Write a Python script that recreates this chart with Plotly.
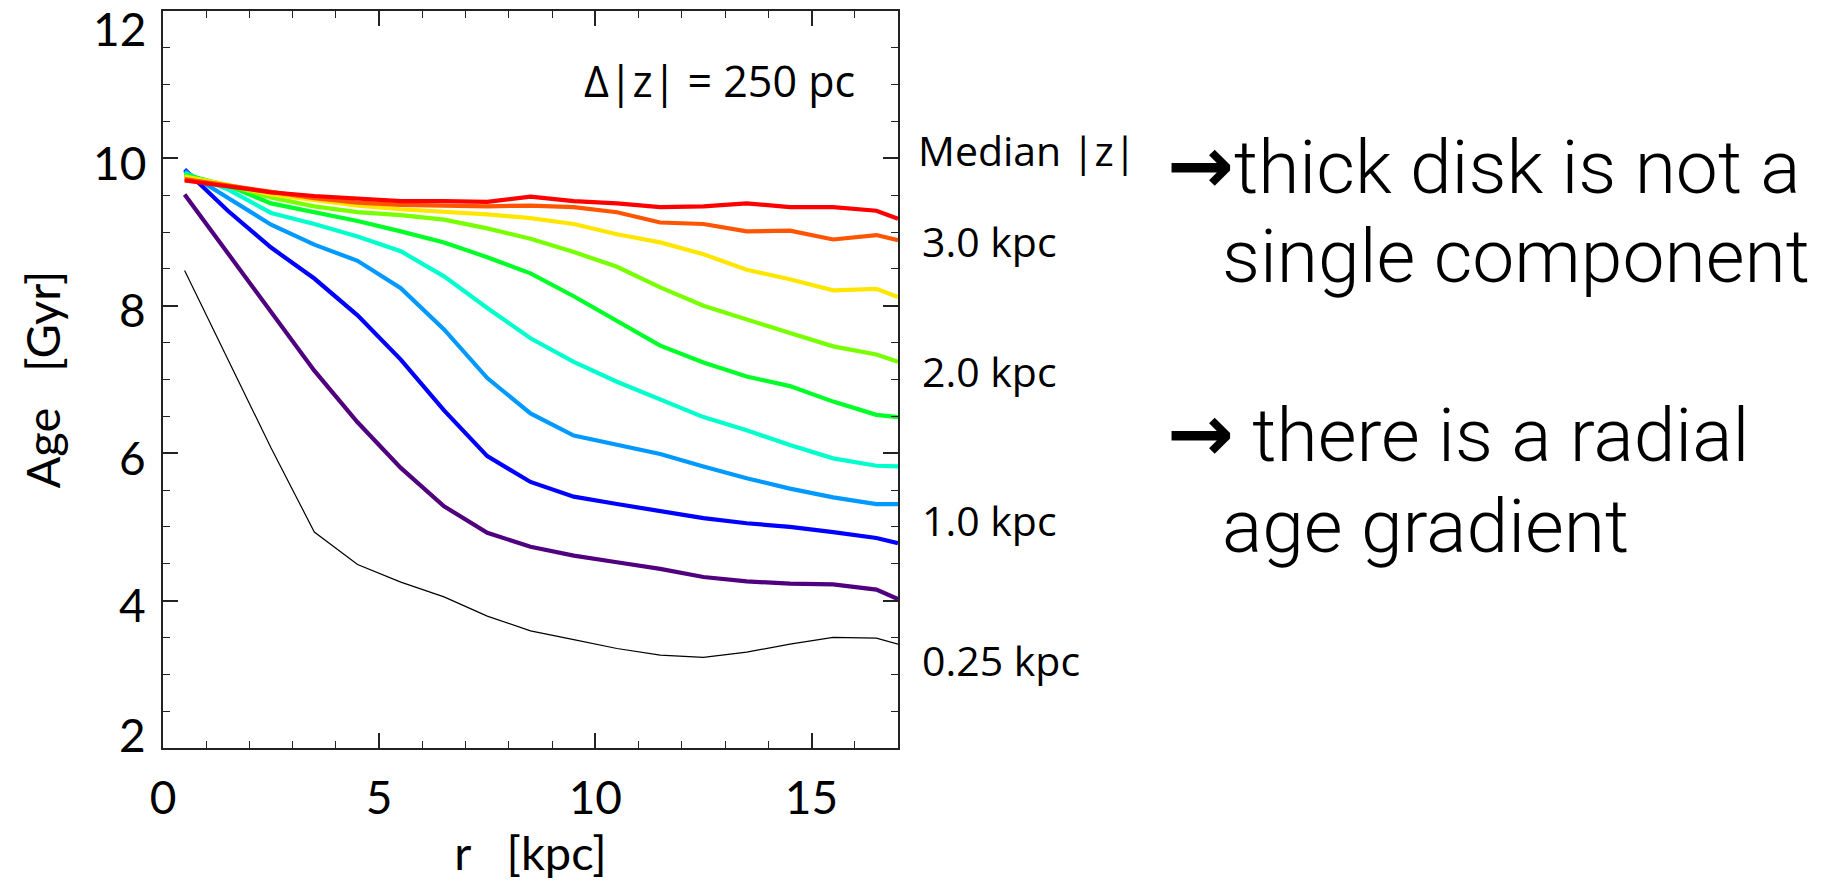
import plotly.graph_objects as go

# ---------------- data ----------------
r_kpc = [0.5, 1.5, 2.5, 3.5, 4.5, 5.5, 6.5, 7.5, 8.5, 9.5,
         10.5, 11.5, 12.5, 13.5, 14.5, 15.5, 16.5, 17.0]

age_black = [8.48, 7.28, 6.07, 4.93, 4.49, 4.25, 4.05, 3.79, 3.59, 3.47,
             3.35, 3.26, 3.23, 3.30, 3.41, 3.50, 3.49, 3.41]
age_purple = [9.51, 8.71, 7.91, 7.12, 6.42, 5.80, 5.28, 4.92, 4.73, 4.61,
              4.52, 4.43, 4.32, 4.26, 4.23, 4.22, 4.15, 4.02]
age_blue = [9.85, 9.29, 8.79, 8.37, 7.87, 7.27, 6.58, 5.96, 5.61, 5.41,
            5.31, 5.22, 5.12, 5.05, 5.00, 4.93, 4.85, 4.78]
age_lightblue = [9.83, 9.47, 9.10, 8.83, 8.61, 8.24, 7.68, 7.02, 6.54, 6.24,
                 6.11, 5.99, 5.82, 5.66, 5.52, 5.40, 5.31, 5.31]
age_cyan = [9.80, 9.58, 9.26, 9.11, 8.94, 8.74, 8.40, 7.97, 7.56, 7.24,
            6.97, 6.73, 6.49, 6.31, 6.11, 5.93, 5.83, 5.82]
age_green = [9.78, 9.63, 9.39, 9.27, 9.15, 9.01, 8.86, 8.66, 8.44, 8.13,
             7.79, 7.46, 7.23, 7.04, 6.91, 6.70, 6.52, 6.49]
age_yellowgreen = [9.76, 9.64, 9.47, 9.35, 9.27, 9.23, 9.17, 9.05, 8.91, 8.73,
                   8.53, 8.25, 8.00, 7.81, 7.63, 7.45, 7.34, 7.24]
age_yellow = [9.75, 9.64, 9.51, 9.44, 9.36, 9.31, 9.28, 9.24, 9.19, 9.11,
              8.97, 8.86, 8.70, 8.49, 8.36, 8.21, 8.23, 8.12]
age_orange = [9.72, 9.63, 9.54, 9.46, 9.40, 9.37, 9.36, 9.35, 9.36, 9.34,
              9.27, 9.13, 9.11, 9.01, 9.02, 8.90, 8.96, 8.89]
age_red = [9.70, 9.62, 9.54, 9.49, 9.45, 9.42, 9.42, 9.41, 9.48, 9.42,
           9.39, 9.34, 9.35, 9.39, 9.34, 9.34, 9.29, 9.18]

x_tick_vals = [0, 5, 10, 15]
y_tick_vals = [2, 4, 6, 8, 10, 12]
y_tick_text = ["2", "4", "6", "8", "10", "12"]

median_z_labels = ["3.0 kpc", "2.0 kpc", "1.0 kpc", "0.25 kpc"]
bullet_lines = ["thick disk is not a", "single component",
                " there is a radial", "age gradient"]
bullet_arrow = [True, False, True, False]

# ---------------- styles ----------------
series = [
    (age_black, "#000000", 1.2),
    (age_purple, "#50007F", 4.2),
    (age_blue, "#0000FF", 4.2),
    (age_lightblue, "#0099FF", 4.2),
    (age_cyan, "#00FFCC", 4.2),
    (age_green, "#00FF28", 4.2),
    (age_yellowgreen, "#78FF00", 4.2),
    (age_yellow, "#FFE600", 4.2),
    (age_orange, "#FF5500", 4.2),
    (age_red, "#FF0000", 4.2),
]

W, H = 1833, 882
L, R, T, B = 163, 898, 11, 748  # plot area in pixels
PW, PH = R - L, B - T


def px(x):
    return (x - L) / PW


def py(y):
    return (B - y) / PH


fig = go.Figure()
for ys, col, w in series:
    fig.add_trace(go.Scatter(x=r_kpc, y=ys, mode="lines",
                             line=dict(color=col, width=w),
                             showlegend=False, hoverinfo="skip"))

axis_col = "#222222"
tick_font = dict(family="Lato, sans-serif", size=46, color="black")
title_font = dict(family="Lato, sans-serif", size=47, color="black")

fig.update_layout(
    width=W, height=H,
    margin=dict(l=L, r=W - R, t=T, b=H - B, autoexpand=False),
    paper_bgcolor="white", plot_bgcolor="white",
    showlegend=False,
)

fig.update_xaxes(
    range=[0, 17], tickmode="array", tickvals=x_tick_vals,
    ticks="inside", ticklen=15, tickwidth=1.5, tickcolor=axis_col,
    minor=dict(dtick=1, ticks="inside", ticklen=7.5, tickwidth=1.2, tickcolor=axis_col),
    showline=True, linecolor=axis_col, linewidth=1.5, mirror="allticks",
    showgrid=False, zeroline=False, tickfont=tick_font, ticklabelstandoff=9,
    title=dict(text="r\u00a0\u00a0\u00a0[kpc]", font=title_font, standoff=10),
    automargin=False,
)
fig.update_yaxes(
    range=[2, 12], tickmode="array", tickvals=y_tick_vals,
    ticks="inside", ticklen=15, tickwidth=1.5, tickcolor=axis_col,
    minor=dict(dtick=0.5, ticks="inside", ticklen=7.5, tickwidth=1.2, tickcolor=axis_col),
    showline=True, linecolor=axis_col, linewidth=1.5, mirror="allticks",
    showgrid=False, zeroline=False, showticklabels=False,
    title=dict(text="Age\u00a0\u00a0\u00a0[Gyr]", font=title_font, standoff=86),
    automargin=False,
)

ann = []
# y tick labels (IDL style: end labels pulled inside the axis span)
shifts = {2: 14, 12: -17}
for v, t in zip(y_tick_vals, y_tick_text):
    ann.append(dict(x=0, xref="paper", y=v, yref="y", text=t, showarrow=False,
                    xanchor="right", yanchor="middle", xshift=-15,
                    yshift=shifts.get(v, -4), font=tick_font))

label_font = dict(family="Open Sans, sans-serif", size=41, color="black")
ann.append(dict(x=px(857), y=py(80), xref="paper", yref="paper", text="\u0394|z| = 250 pc",
                showarrow=False, xanchor="right", yanchor="middle",
                font=dict(family="Open Sans, sans-serif", size=43, color="black")))
ann.append(dict(x=px(916), y=py(150), xref="paper", yref="paper", text="Median |z|",
                showarrow=False, xanchor="left", yanchor="middle", font=label_font))
for lab, yc in zip(median_z_labels, [241, 371, 520, 660]):
    ann.append(dict(x=px(920), y=py(yc), xref="paper", yref="paper", text=lab,
                    showarrow=False, xanchor="left", yanchor="middle", font=label_font))

big_font = dict(family="Roboto, sans-serif", size=75, color="black", weight=300)
arrow_span = "<span style=\"font-family:'DejaVu Sans';font-weight:bold;font-size:80px\">\u2192</span>"
for txt, has_arrow, xl, yc in zip(bullet_lines, bullet_arrow,
                                  [1165, 1220, 1165, 1220], [165, 256, 433, 526]):
    ann.append(dict(x=px(xl), y=py(yc), xref="paper", yref="paper",
                    text=(arrow_span + txt) if has_arrow else txt,
                    showarrow=False, xanchor="left", yanchor="middle", font=big_font))

fig.update_layout(annotations=ann)
fig.write_html("out.html")
